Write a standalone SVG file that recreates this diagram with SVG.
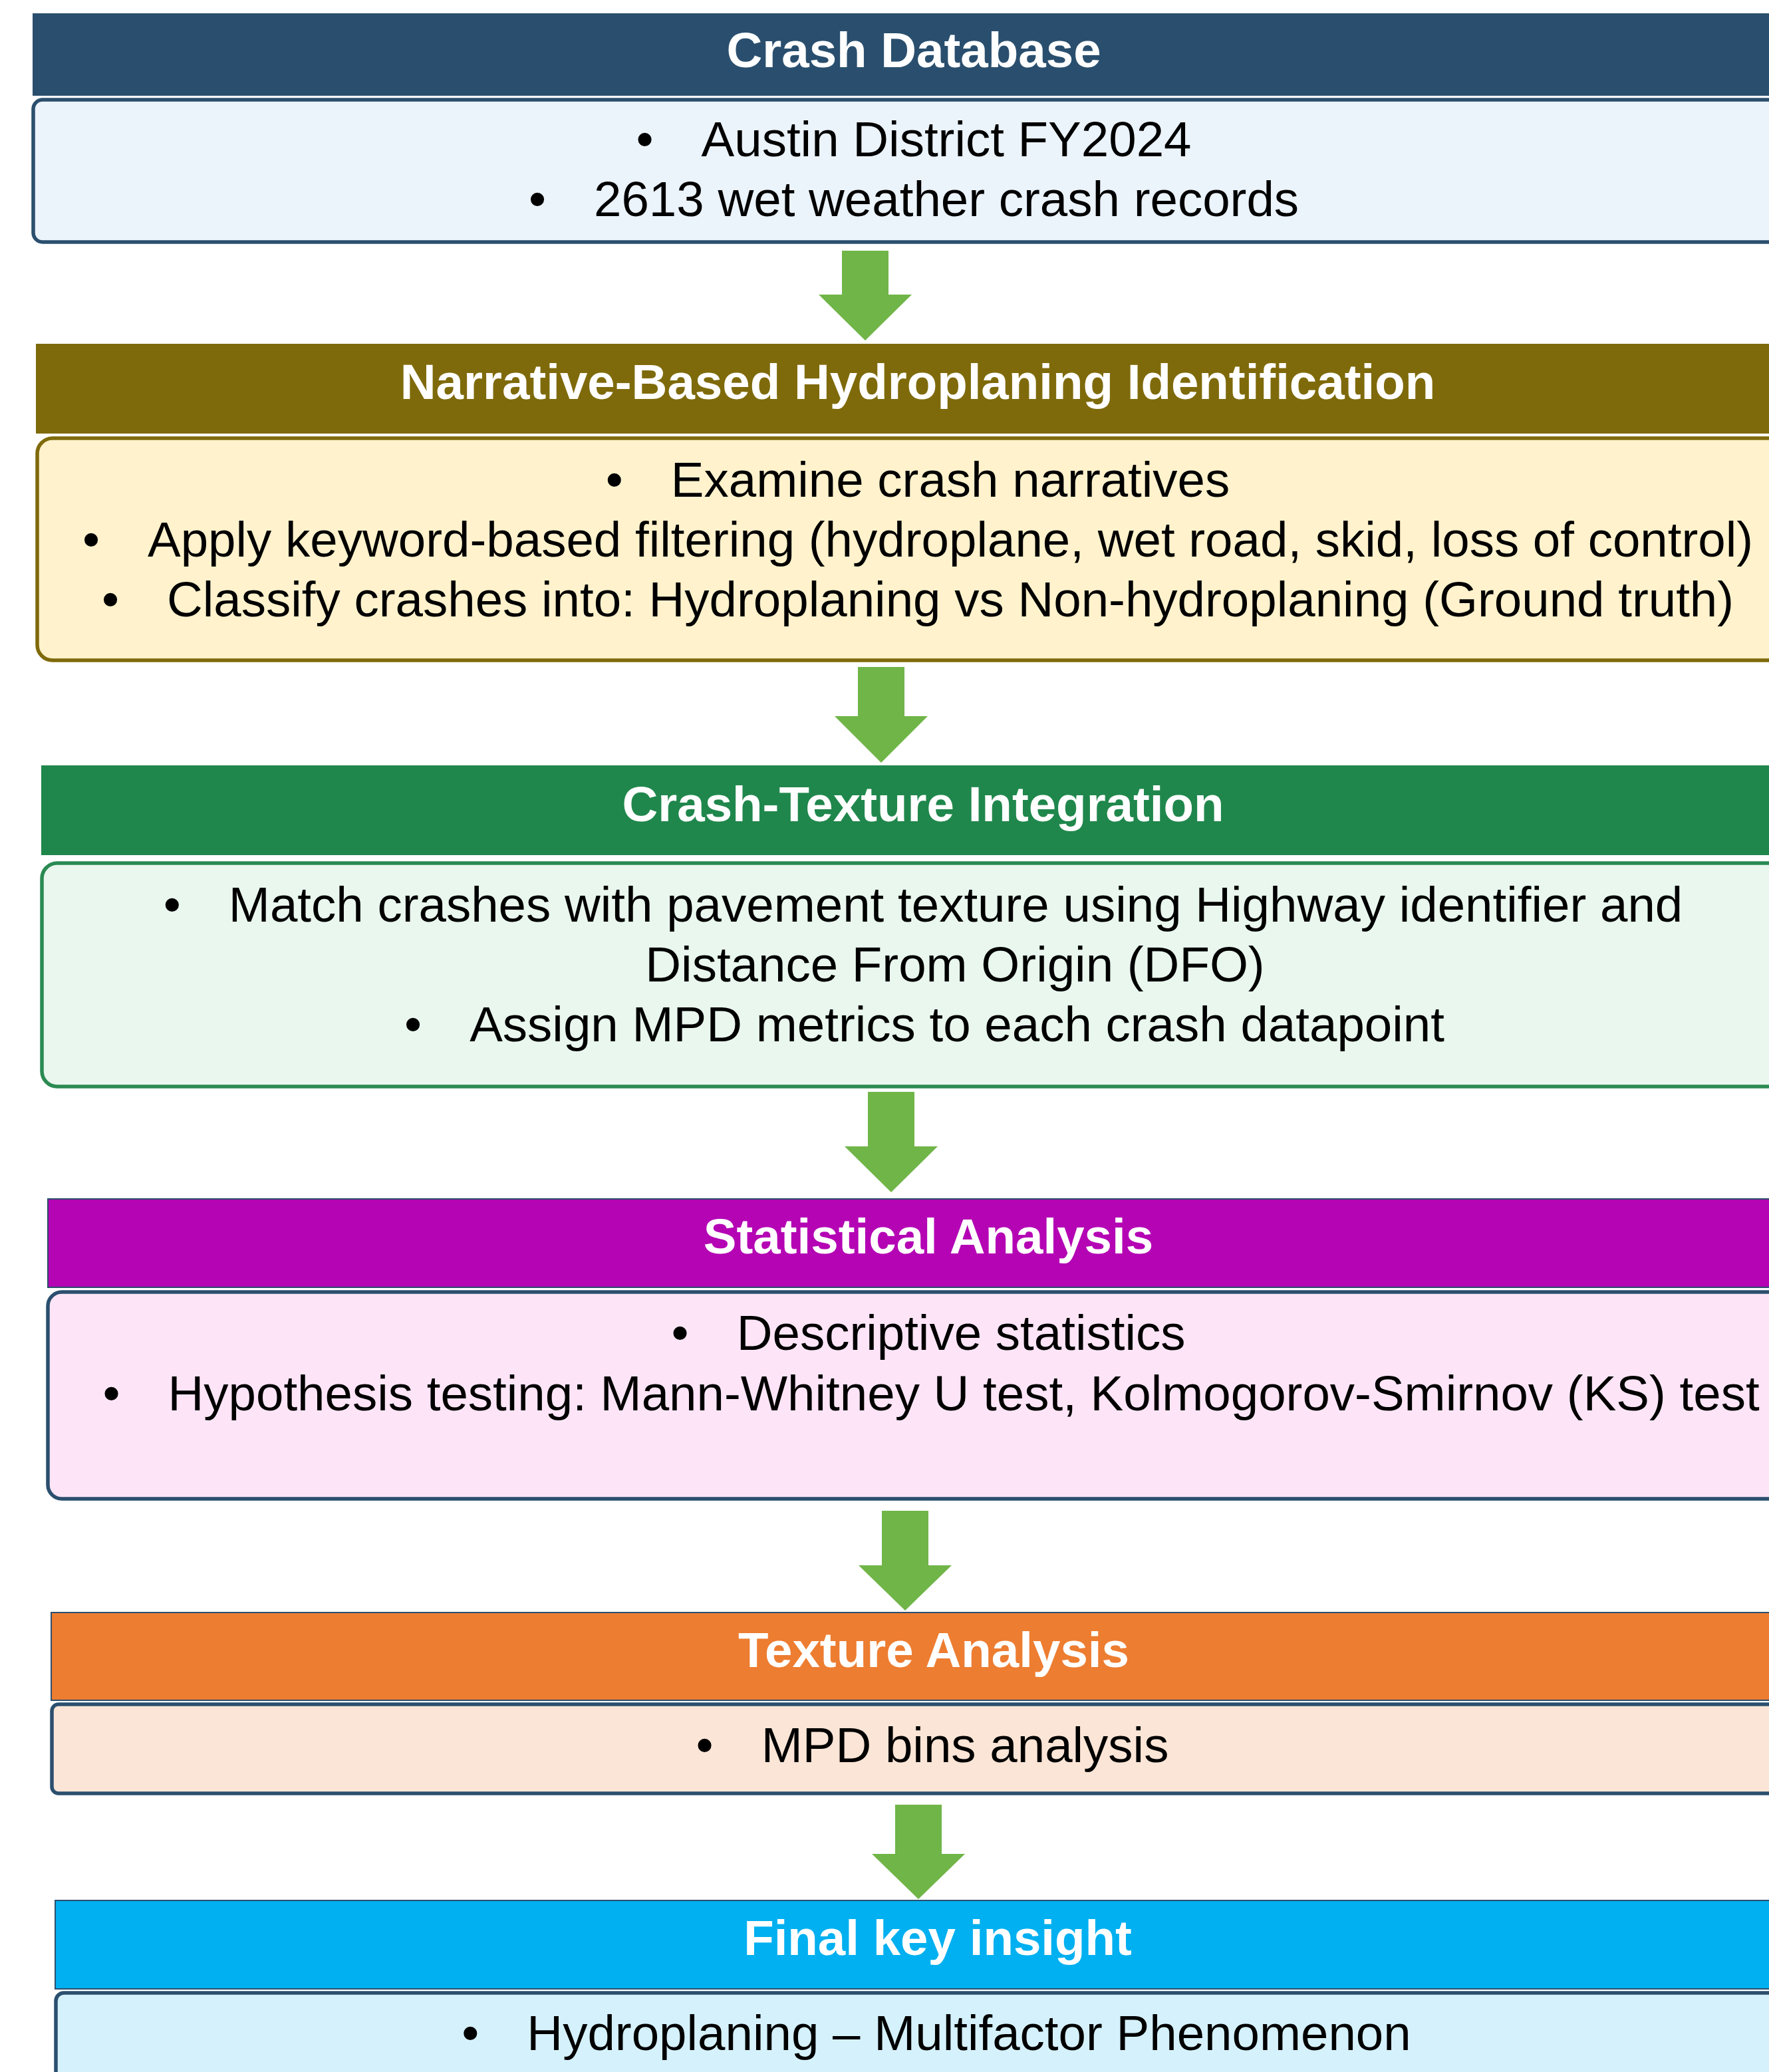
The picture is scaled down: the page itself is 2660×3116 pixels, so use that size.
<svg xmlns="http://www.w3.org/2000/svg" width="2660" height="3116" viewBox="0 0 2660 3116">
<style>
.hd{font-family:"Liberation Sans",Arial,sans-serif;font-weight:bold;font-size:74.5px;fill:#FFFFFF;text-anchor:middle}
.bt{font-family:"Liberation Sans",Arial,sans-serif;font-size:74.5px;fill:#000000;text-anchor:middle}
.body{stroke-width:5.5}
.arrow{fill:#70B548}
.navy{stroke:#2B4F6E}
</style>
<rect width="2660" height="3116" fill="#FFFFFF"/>
<g id="connectors">
<polygon class="arrow" points="1266,377 1336,377 1336,443 1371,443 1301,512 1231,443 1266,443"/>
<polygon class="arrow" points="1290,1003 1360,1003 1360,1077 1395,1077 1325,1147 1255,1077 1290,1077"/>
<polygon class="arrow" points="1305,1642 1375,1642 1375,1724 1410,1724 1340,1793 1270,1724 1305,1724"/>
<polygon class="arrow" points="1326,2272 1396,2272 1396,2354 1431,2354 1361,2422 1291,2354 1326,2354"/>
<polygon class="arrow" points="1346,2714 1416,2714 1416,2788 1451,2788 1381,2856 1311,2788 1346,2788"/>
</g>
<g id="crash-database">
<rect x="49" y="20" width="2650" height="124" fill="#2A4F6E"/>
<text class="hd" x="1374" y="101">Crash Database</text>
<rect class="body navy" x="50" y="150" width="2650" height="214" rx="14" fill="#EBF3FB"/>
<text class="bt" x="1374" y="235"><tspan>•</tspan><tspan dx="72">Austin District FY2024</tspan></text>
<text class="bt" x="1374" y="325"><tspan>•</tspan><tspan dx="72">2613 wet weather crash records</tspan></text>
</g>
<g id="narrative-identification">
<rect x="54" y="517" width="2650" height="135" fill="#7F6A0B"/>
<text class="hd" x="1380" y="600">Narrative-Based Hydroplaning Identification</text>
<rect class="body" x="56" y="659" width="2650" height="334" rx="23" fill="#FFF2CC" stroke="#7F6A0B"/>
<text class="bt" x="1380" y="747"><tspan>•</tspan><tspan dx="72">Examine crash narratives</tspan></text>
<text class="bt" x="1380" y="837"><tspan>•</tspan><tspan dx="72">Apply keyword-based filtering (hydroplane, wet road, skid, loss of control)</tspan></text>
<text class="bt" x="1380" y="927"><tspan>•</tspan><tspan dx="72">Classify crashes into: Hydroplaning vs Non-hydroplaning (Ground truth)</tspan></text>
</g>
<g id="crash-texture-integration">
<rect x="62" y="1151" width="2650" height="135" fill="#20874C"/>
<text class="hd" x="1388" y="1235">Crash-Texture Integration</text>
<rect class="body" x="63" y="1298" width="2650" height="336" rx="23" fill="#E9F7EE" stroke="#2A8A52"/>
<text class="bt" x="1388" y="1386"><tspan>•</tspan><tspan dx="72">Match crashes with pavement texture using Highway identifier and</tspan></text>
<text class="bt" x="1436" y="1476">Distance From Origin (DFO)</text>
<text class="bt" x="1390" y="1566"><tspan>•</tspan><tspan dx="72">Assign MPD metrics to each crash datapoint</tspan></text>
</g>
<g id="statistical-analysis">
<rect x="72" y="1803" width="2650" height="133" fill="#B404B4" stroke="#2B4F6E" stroke-width="2"/>
<text class="hd" x="1396" y="1885">Statistical Analysis</text>
<rect class="body navy" x="72" y="1943" width="2650" height="311" rx="21" fill="#FDE5F7"/>
<text class="bt" x="1396" y="2030"><tspan>•</tspan><tspan dx="72">Descriptive statistics</tspan></text>
<text class="bt" x="1400" y="2121"><tspan>•</tspan><tspan dx="72">Hypothesis testing: Mann-Whitney U test, Kolmogorov-Smirnov (KS) test</tspan></text>
</g>
<g id="texture-analysis">
<rect x="77" y="2425" width="2650" height="132" fill="#ED7D31" stroke="#2B4F6E" stroke-width="2"/>
<text class="hd" x="1404" y="2507">Texture Analysis</text>
<rect class="body navy" x="78" y="2563" width="2650" height="134" rx="10" fill="#FBE5D6"/>
<text class="bt" x="1402" y="2650"><tspan>•</tspan><tspan dx="72">MPD bins analysis</tspan></text>
</g>
<g id="final-key-insight">
<rect x="83" y="2858" width="2650" height="133" fill="#00B0F0" stroke="#2B4F6E" stroke-width="2"/>
<text class="hd" x="1410" y="2940">Final key insight</text>
<rect class="body navy" x="84" y="2997" width="2650" height="300" rx="12" fill="#D5F1FB"/>
<text class="bt" x="1408" y="3083"><tspan>•</tspan><tspan dx="72">Hydroplaning – Multifactor Phenomenon</tspan></text>
</g>
</svg>
